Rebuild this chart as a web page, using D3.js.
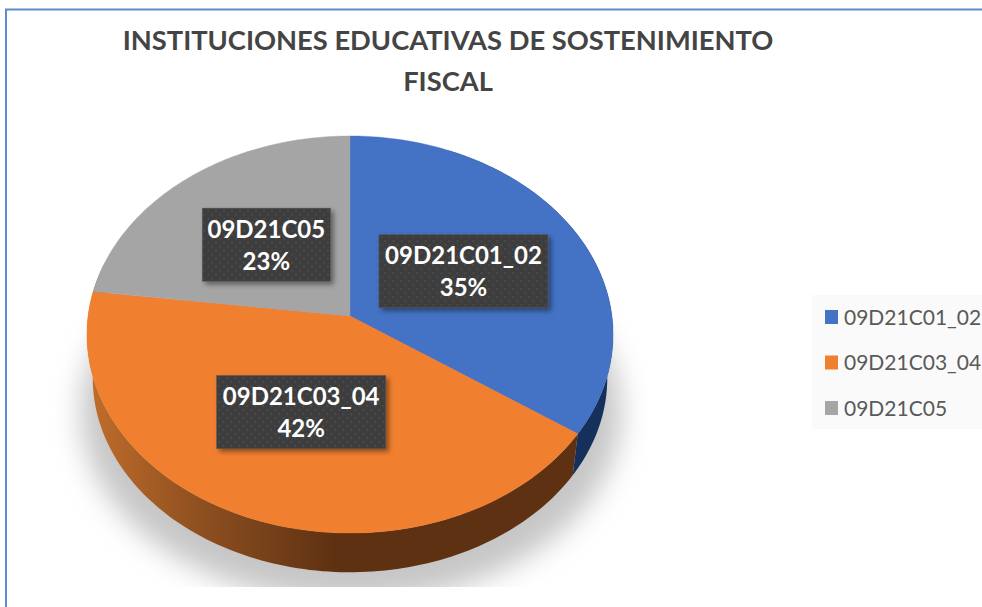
<!DOCTYPE html>
<html><head><meta charset="utf-8">
<style>html,body{margin:0;padding:0;background:#fff;overflow:hidden}svg{display:block}</style>
<script src="https://cdn.jsdelivr.net/npm/d3@7/dist/d3.min.js"></script></head>
<body><svg id="c" width="982" height="607"></svg>
<script>
const titleLines = ["INSTITUCIONES EDUCATIVAS DE SOSTENIMIENTO", "FISCAL"];
const categories = ["09D21C01_02", "09D21C03_04", "09D21C05"];
const shares = [34.6, 42.4, 23];
const topColors = ["#4472c4", "#f17f30", "#a5a5a5"];
const sideColors = ["#16305c", "url(#sideOrange)", "#6a6a6a"];

const svg = d3.select("#c");
const defs = svg.append("defs");
const F = "Lato, 'Open Sans', sans-serif";

const grad = defs.append("linearGradient").attr("id","sideOrange").attr("gradientUnits","userSpaceOnUse")
  .attr("x1",90).attr("x2",580).attr("y1",0).attr("y2",0);
[[0,"#c06d2b"],[0.22,"#8f5020"],[0.5,"#5e3112"],[1,"#5e3112"]].forEach(s=>grad.append("stop").attr("offset",s[0]).attr("stop-color",s[1]));

const pat = defs.append("pattern").attr("id","dots").attr("patternUnits","userSpaceOnUse").attr("width",8).attr("height",8);
pat.append("rect").attr("width",8).attr("height",8).attr("fill","#3d3d3d");
pat.append("rect").attr("x",1).attr("y",1).attr("width",2).attr("height",2).attr("fill","#4a4a4a");
pat.append("rect").attr("x",5).attr("y",5).attr("width",2).attr("height",2).attr("fill","#4a4a4a");

defs.append("filter").attr("id","blur").attr("x","-20%").attr("y","-20%").attr("width","140%").attr("height","140%")
  .append("feGaussianBlur").attr("stdDeviation",14);
defs.append("filter").attr("id","lblShadow").attr("x","-20%").attr("y","-30%").attr("width","140%").attr("height","160%")
  .append("feDropShadow").attr("dx",3).attr("dy",3).attr("stdDeviation",2.5).attr("flood-color","#000").attr("flood-opacity",0.42);
defs.append("clipPath").attr("id","shadowClip").append("rect").attr("x",0).attr("y",300).attr("width",982).attr("height",287);

// perspective disk: pie angle + radius fraction to screen
const cx = 350, cy = 316, rx = 261.9, ry = 196.8, k = 0.0932;
const project = (a, f, s = 1, dy = 0) => {
  const u = Math.sin(a) * f, v = Math.cos(a) * f, w = 1 + k * v;
  return [cx + s * rx * u / w, cy + dy - s * ry * v / w];
};
const line = d3.line();
const arcPts = (a0, a1, f, s, dy) => d3.range(0, 121).map(i => project(a0 + (a1 - a0) * i / 120, f, s, dy));

const arcs = d3.pie().sort(null)(shares);
const TAU = Math.PI * 2;

// frame
svg.append("path").attr("d", line([[6,607],[6,9.5],[982,9.5]]))
  .attr("fill","none").attr("stroke","#5b8ccb").attr("stroke-width",2);

// title
svg.append("g").selectAll("text").data(titleLines).join("text")
  .attr("x",448).attr("y",(d,i)=>50+i*41).attr("text-anchor","middle")
  .attr("font-family",F).attr("font-weight",700).attr("font-size",27.3).attr("fill","#444444").text(d=>d);

// floor shadow
svg.append("g").attr("clip-path","url(#shadowClip)").append("ellipse").attr("filter","url(#blur)")
  .attr("cx",cx+1).attr("cy",412).attr("rx",270).attr("ry",190).attr("fill","#c6c6c6");

// side wall
const S = 0.978, DY = 44;
arcs.forEach((d,i)=>{
  const a0 = Math.max(d.startAngle, 0.42), a1 = Math.min(d.endAngle, TAU - 1.3);
  if (a1 <= a0) return;
  const upper = arcPts(a0,a1,1,1,0), lower = arcPts(a0,a1,1,S,DY).reverse();
  svg.append("path").attr("d", line(upper.concat(lower))+"Z").attr("fill",sideColors[i]);
});

// top slices
svg.append("g").selectAll("path").data(arcs).join("path")
  .attr("d", d => line([[cx,cy]].concat(arcPts(d.startAngle,d.endAngle,1,1,0)))+"Z")
  .attr("fill",(d,i)=>topColors[i]).attr("stroke",(d,i)=>topColors[i]).attr("stroke-width",0.4);

// data labels
const boxW = t => t.length > 9 ? 169 : 128, boxH = 73;
const labels = svg.append("g").selectAll("g").data(arcs).join("g").attr("transform", d => {
  const p = project((d.startAngle+d.endAngle)/2, 0.5);
  return `translate(${p[0]},${p[1]})`;
});
labels.append("rect")
  .attr("x",(d,i)=>-boxW(categories[i])/2).attr("y",-boxH/2)
  .attr("width",(d,i)=>boxW(categories[i])).attr("height",boxH)
  .attr("fill","url(#dots)").attr("stroke","#555").attr("stroke-width",0.6).attr("filter","url(#lblShadow)");
labels.append("text").attr("text-anchor","middle").attr("y",-7)
  .attr("font-family",F).attr("font-weight",700).attr("font-size",24).attr("fill","#fff").text((d,i)=>categories[i]);
labels.append("text").attr("text-anchor","middle").attr("y",25)
  .attr("font-family",F).attr("font-weight",700).attr("font-size",24).attr("fill","#fff").text((d,i)=>d3.format(".0f")(shares[i])+"%");

// legend
const leg = svg.append("g");
leg.append("rect").attr("x",812).attr("y",295).attr("width",170).attr("height",134).attr("fill","#fafafa");
const legY = d3.scalePoint().domain(categories).range([317,408]);
const items = leg.selectAll("g").data(categories).join("g").attr("transform",d=>`translate(0,${legY(d)})`);
items.append("rect").attr("x",825).attr("y",-7).attr("width",13).attr("height",14).attr("fill",(d,i)=>topColors[i]);
items.append("text").attr("x",844).attr("y",7.5).attr("font-family",F).attr("font-size",21).attr("fill","#595959").text(d=>d);
</script></body></html>
